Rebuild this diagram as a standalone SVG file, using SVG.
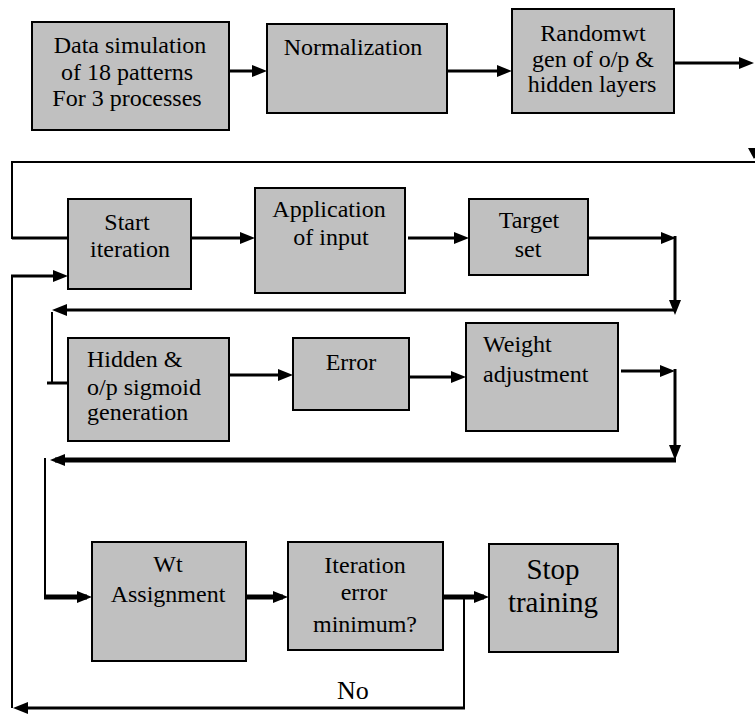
<svg xmlns="http://www.w3.org/2000/svg" width="755" height="714" viewBox="0 0 755 714" font-family="Liberation Serif, serif">
<defs>
<marker id="ah" markerUnits="userSpaceOnUse" viewBox="0 0 16 14" markerWidth="16" markerHeight="14" refX="10" refY="7" orient="auto">
<path d="M0,1 L15,7 L0,13 Z" fill="#000"/>
</marker>
</defs>
<rect width="755" height="714" fill="#fff"/>
<g id="connectors" fill="none" stroke="#000">
<g stroke-width="3" marker-end="url(#ah)">
<path d="M229,71 H262"/>
<path d="M447,71 H507"/>
<path d="M674,63 H749"/>
<path d="M12,238 H83"/>
<path d="M191,238 H250"/>
<path d="M408,238 H464"/>
<path d="M588,238 H671"/>
<path d="M675,236 V310"/>
<path d="M675,310 H57"/>
<path d="M47,383 H77"/>
<path d="M229,375 H288"/>
<path d="M409,377 H461"/>
<path d="M621,371 H670"/>
<path d="M675,369 V455"/>
<path d="M465,708 H18"/>
<path d="M11,276 H63"/>
</g>
<g stroke-width="5" marker-end="url(#ah)">
<path d="M676,460 H55"/>
<path d="M44,597 H87"/>
<path d="M246,597 H283"/>
<path d="M443,597 H484"/>
</g>
<g stroke-width="2">
<path d="M755,162 H12 V239"/>
<path d="M52,312 V384"/>
<path d="M45,458 V598"/>
<path d="M464,597 V708"/>
<path d="M12,708 V276"/>
</g>
<polygon points="748,148 760,148 754,159" fill="#000" stroke="none"/>
</g>
<g id="n1">
<rect x="32" y="22" width="197" height="108" fill="#c0c0c0" stroke="#000" stroke-width="2"/>
<text x="130" y="53" text-anchor="middle" font-family="Liberation Serif" font-size="24">Data simulation</text>
<text x="127" y="80" text-anchor="middle" font-family="Liberation Serif" font-size="24">of 18 patterns</text>
<text x="127" y="106" text-anchor="middle" font-family="Liberation Serif" font-size="24">For 3 processes</text>
</g>
<g id="n2">
<rect x="267" y="24" width="180" height="89" fill="#c0c0c0" stroke="#000" stroke-width="2"/>
<text x="353" y="55" text-anchor="middle" font-family="Liberation Serif" font-size="24">Normalization</text>
</g>
<g id="n3">
<rect x="512" y="9" width="162" height="104" fill="#c0c0c0" stroke="#000" stroke-width="2"/>
<text x="593" y="41" text-anchor="middle" font-family="Liberation Serif" font-size="24">Randomwt</text>
<text x="593" y="67" text-anchor="middle" font-family="Liberation Serif" font-size="24">gen of o/p &amp;</text>
<text x="592" y="92" text-anchor="middle" font-family="Liberation Serif" font-size="24">hidden layers</text>
</g>
<g id="n4">
<rect x="68" y="199" width="123" height="90" fill="#c0c0c0" stroke="#000" stroke-width="2"/>
<text x="127" y="230" text-anchor="middle" font-family="Liberation Serif" font-size="24">Start</text>
<text x="130" y="257" text-anchor="middle" font-family="Liberation Serif" font-size="24">iteration</text>
</g>
<g id="n5">
<rect x="255" y="188" width="150" height="105" fill="#c0c0c0" stroke="#000" stroke-width="2"/>
<text x="329" y="217" text-anchor="middle" font-family="Liberation Serif" font-size="24">Application</text>
<text x="331" y="245" text-anchor="middle" font-family="Liberation Serif" font-size="24">of input</text>
</g>
<g id="n6">
<rect x="469" y="199" width="119" height="76" fill="#c0c0c0" stroke="#000" stroke-width="2"/>
<text x="529" y="228" text-anchor="middle" font-family="Liberation Serif" font-size="24">Target</text>
<text x="528" y="257" text-anchor="middle" font-family="Liberation Serif" font-size="24">set</text>
</g>
<g id="n7">
<rect x="68" y="338" width="161" height="103" fill="#c0c0c0" stroke="#000" stroke-width="2"/>
<text x="87" y="367" font-family="Liberation Serif" font-size="24">Hidden &amp;</text>
<text x="87" y="395" font-family="Liberation Serif" font-size="24">o/p sigmoid</text>
<text x="87" y="420" font-family="Liberation Serif" font-size="24">generation</text>
</g>
<g id="n8">
<rect x="293" y="338" width="116" height="72" fill="#c0c0c0" stroke="#000" stroke-width="2"/>
<text x="351" y="370" text-anchor="middle" font-family="Liberation Serif" font-size="24">Error</text>
</g>
<g id="n9">
<rect x="466" y="323" width="152" height="108" fill="#c0c0c0" stroke="#000" stroke-width="2"/>
<text x="483" y="352" font-family="Liberation Serif" font-size="24">Weight</text>
<text x="483" y="382" font-family="Liberation Serif" font-size="24">adjustment</text>
</g>
<g id="n10">
<rect x="92" y="542" width="154" height="119" fill="#c0c0c0" stroke="#000" stroke-width="2"/>
<text x="168" y="572" text-anchor="middle" font-family="Liberation Serif" font-size="24">Wt</text>
<text x="168" y="602" text-anchor="middle" font-family="Liberation Serif" font-size="24">Assignment</text>
</g>
<g id="n11">
<rect x="288" y="542" width="155" height="108" fill="#c0c0c0" stroke="#000" stroke-width="2"/>
<text x="365" y="573" text-anchor="middle" font-family="Liberation Serif" font-size="24">Iteration</text>
<text x="364" y="600" text-anchor="middle" font-family="Liberation Serif" font-size="24">error</text>
<text x="365" y="632" text-anchor="middle" font-family="Liberation Serif" font-size="24">minimum?</text>
</g>
<g id="n12">
<rect x="489" y="544" width="129" height="108" fill="#c0c0c0" stroke="#000" stroke-width="2"/>
<text x="553" y="579" text-anchor="middle" font-family="Liberation Serif" font-size="29">Stop</text>
<text x="553" y="612" text-anchor="middle" font-family="Liberation Serif" font-size="29">training</text>
</g>
<text x="337" y="699" font-family="Liberation Serif" font-size="26">No</text>
</svg>
